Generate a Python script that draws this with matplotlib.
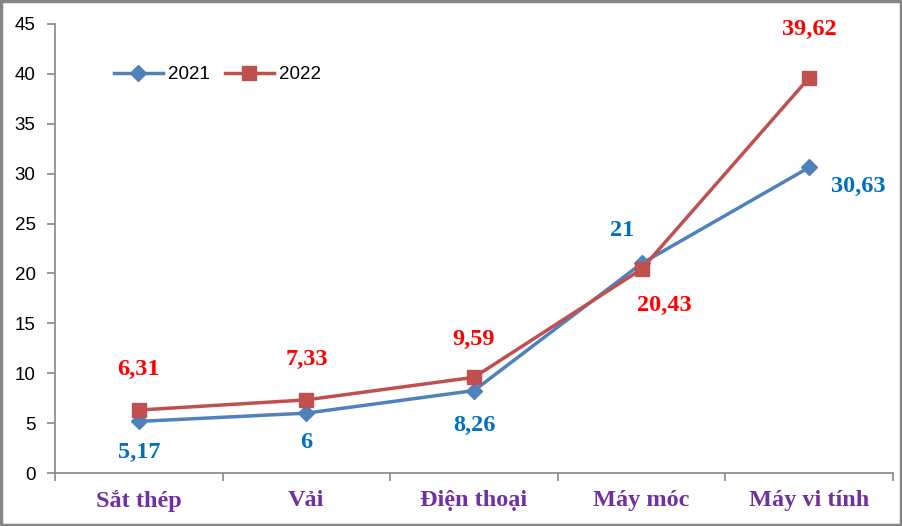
import numpy as np
import matplotlib.pyplot as plt
from matplotlib.patches import Rectangle

categories = ['Sắt thép', 'Vải', 'Điện thoại', 'Máy móc', 'Máy vi tính']
values_2021 = [5.17, 6, 8.26, 21, 30.63]
values_2022 = [6.31, 7.33, 9.59, 20.43, 39.62]
labels_2021 = ['5,17', '6', '8,26', '21', '30,63']
labels_2022 = ['6,31', '7,33', '9,59', '20,43', '39,62']

# label offsets in points (dx, dy)
off_2021 = [(0, -22), (0, -21), (0, -25), (-14, 24), (35, -14)]
off_2022 = [(0, 29), (0, 29), (0, 27), (16, -26), (0, 35)]

fig = plt.figure(figsize=(9.03, 5.26), dpi=100)
ax = fig.add_axes([55/903, 1 - 473/526, 838/903, 449/526])

x = np.arange(len(categories))
ax.plot(x, values_2021, color='#4F81BD', lw=2.5, marker='D', ms=8.5,
        label='2021', zorder=3)
ax.plot(x, values_2022, color='#C0504D', lw=2.5, marker='s', ms=10.5,
        label='2022', zorder=3)

lab_font = dict(family='Liberation Serif', weight='bold', size=17.5)
for i in range(len(x)):
    ax.annotate(labels_2021[i], (x[i], values_2021[i]), xytext=off_2021[i],
                textcoords='offset points', ha='center', va='center',
                color='#0070C0', **lab_font)
    ax.annotate(labels_2022[i], (x[i], values_2022[i]), xytext=off_2022[i],
                textcoords='offset points', ha='center', va='center',
                color='#FF0000', **lab_font)

ax.set_xlim(-0.5, 4.5)
ax.set_ylim(0, 45)
ax.set_yticks(np.arange(0, 46, 5))
ax.set_xticks(x)
ax.set_xticklabels(categories, family='Liberation Serif', weight='bold',
                   size=17.5, color='#7030A0')
ax.set_xticks(np.arange(-0.5, 5, 1), minor=True)
ax.tick_params(axis='x', which='major', length=0, pad=12)
ax.tick_params(axis='x', which='minor', length=6, color='#868686', width=1.2)
ax.tick_params(axis='y', length=6, color='#868686', width=1.2, pad=8,
               labelsize=13.5)
for lbl in ax.get_yticklabels():
    lbl.set_family('Liberation Sans')

for s in ['top', 'right']:
    ax.spines[s].set_visible(False)
for s in ['left', 'bottom']:
    ax.spines[s].set_color('#868686')
    ax.spines[s].set_linewidth(1.2)

leg = ax.legend(loc='center', bbox_to_anchor=(0.194, 0.887), ncol=2,
                frameon=False, prop={'family': 'Liberation Sans', 'size': 13.5},
                handlelength=2.6, columnspacing=0.8, handletextpad=0.3)

fig.patches.append(Rectangle((0.001, 0.002), 0.997, 0.996, transform=fig.transFigure,
                             fill=False, edgecolor='#868686', lw=2.5))

fig.savefig('out.png', dpi=100)
